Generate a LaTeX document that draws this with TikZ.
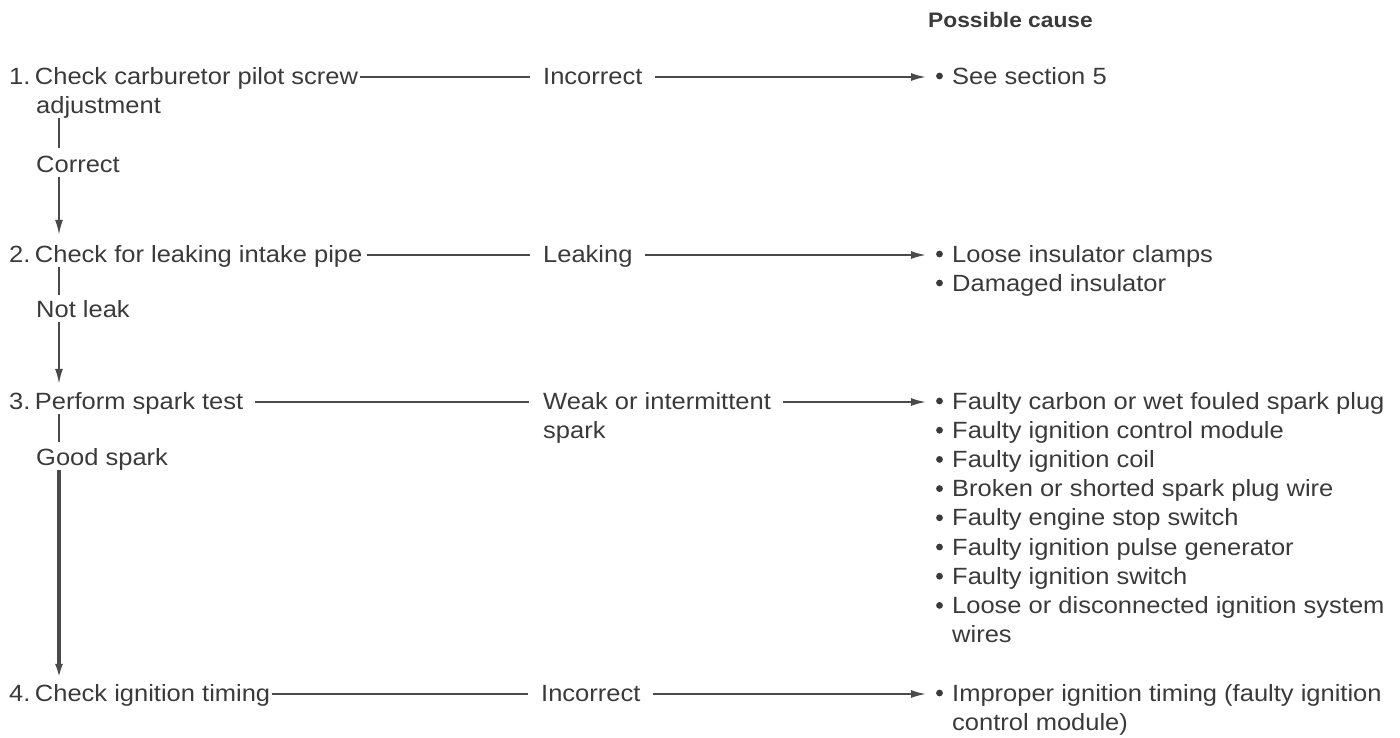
\documentclass[tikz,border=0pt]{standalone}
\usepackage{fontspec}
\setmainfont{Liberation Sans}[FakeStretch=1.085]
\usetikzlibrary{arrows.meta}
\definecolor{ink}{HTML}{3A3A3A}
\definecolor{wire}{HTML}{4A4A4A}
\newcommand\bul{\hspace*{18pt}}
\newcommand\stepnum[1]{#1.\kern4.5pt}
\begin{document}
\begin{tikzpicture}[x=1pt,y=1pt,
  txt/.style={inner sep=0pt, anchor=base west, text height=17pt, text depth=5pt, text=ink,
              font=\fontsize{23.5}{29}\selectfont},
  head/.style={inner sep=0pt, anchor=base west, text=ink, font=\fontsize{21}{25}\selectfont\bfseries},
  wireline/.style={draw=wire, line width=1.8pt},
  flow/.style={wireline, -{Latex[length=15pt,width=8pt]}},
  down/.style={wireline, -{Latex[length=15pt,width=8pt]}},
  dot/.style={fill=ink}]
\useasboundingbox (0,0) rectangle (1400,-737);
\coordinate (sp) at (59,0);

\node[head] (hd) at (928,-27) {Possible cause};

% row 1
\node[txt] (s1) at (9,-84) {\stepnum{1}Check carburetor pilot screw};
\node[txt] (s1b) at (36,-113) {adjustment};
\node[txt] (r1) at (543,-84) {Incorrect};
\node[txt] (c1) at (934,-84) {\bul See section 5};
\node[txt] (l1) at (36,-172) {Correct};

% row 2
\node[txt] (s2) at (9,-262) {\stepnum{2}Check for leaking intake pipe};
\node[txt] (r2) at (543,-262) {Leaking};
\node[txt] (c2a) at (934,-262) {\bul Loose insulator clamps};
\node[txt] (c2b) at (934,-291) {\bul Damaged insulator};
\node[txt] (l2) at (36,-317) {Not leak};

% row 3
\node[txt] (s3) at (9,-409) {\stepnum{3}Perform spark test};
\node[txt] (r3) at (543,-409) {Weak or intermittent};
\node[txt] (r3b) at (543,-438) {spark};
\node[txt] (c3a) at (934,-409) {\bul Faulty carbon or wet fouled spark plug};
\node[txt] (c3b) at (934,-438.2) {\bul Faulty ignition control module};
\node[txt] (c3c) at (934,-467.4) {\bul Faulty ignition coil};
\node[txt] (c3d) at (934,-496.6) {\bul Broken or shorted spark plug wire};
\node[txt] (c3e) at (934,-525.8) {\bul Faulty engine stop switch};
\node[txt] (c3f) at (934,-555) {\bul Faulty ignition pulse generator};
\node[txt] (c3g) at (934,-584.2) {\bul Faulty ignition switch};
\node[txt] (c3h) at (934,-613.4) {\bul Loose or disconnected ignition system};
\node[txt] (c3i) at (952,-642.6) {wires};
\node[txt] (l3) at (36,-465) {Good spark};

% row 4
\node[txt] (s4) at (9,-701) {\stepnum{4}Check ignition timing};
\node[txt] (r4) at (541,-701) {Incorrect};
\node[txt] (c4a) at (934,-701) {\bul Improper ignition timing (faulty ignition};
\node[txt] (c4b) at (952,-730) {control module)};

% bullets
\foreach \c in {c1,c2a,c2b,c3a,c3b,c3c,c3d,c3e,c3f,c3g,c3h,c4a}
  \fill[dot] ([shift={(5.5,8)}]\c.base west) circle (3.4);

% horizontal connectors
\draw[wireline, shorten <=2pt, shorten >=13pt] ([yshift=7pt]s1.base east) -- ([yshift=7pt]r1.base west);
\draw[flow, shorten <=12pt, shorten >=8pt] ([yshift=7pt]r1.base east) -- ([yshift=7pt]c1.base west);
\draw[wireline, shorten <=4pt, shorten >=13pt] ([yshift=7pt]s2.base east) -- ([yshift=7pt]r2.base west);
\draw[flow, shorten <=12pt, shorten >=8pt] ([yshift=7pt]r2.base east) -- ([yshift=7pt]c2a.base west);
\draw[wireline, shorten <=12pt, shorten >=14pt] ([yshift=7pt]s3.base east) -- ([yshift=7pt]r3.base west);
\draw[flow, shorten <=12pt, shorten >=8pt] ([yshift=7pt]r3.base east) -- ([yshift=7pt]c3a.base west);
\draw[wireline, shorten <=2pt, shorten >=13pt] ([yshift=7pt]s4.base east) -- ([yshift=7pt]r4.base west);
\draw[flow, shorten <=12pt, shorten >=8pt] ([yshift=7pt]r4.base east) -- ([yshift=7pt]c4a.base west);

% vertical spine
\draw[wireline, shorten >=7pt] (s1b.south -| sp) -- (l1.north -| sp);
\draw[down, shorten >=10pt] (l1.south -| sp) -- (s2.north -| sp);
\draw[wireline, shorten >=5pt] (s2.south -| sp) -- (l2.north -| sp);
\draw[down, shorten >=8pt] (l2.south -| sp) -- (s3.north -| sp);
\draw[wireline, shorten >=6pt] (s3.south -| sp) -- (l3.north -| sp);
\draw[down, line width=3.2pt, shorten >=5pt] (l3.south -| sp) -- (s4.north -| sp);
\end{tikzpicture}
\end{document}
